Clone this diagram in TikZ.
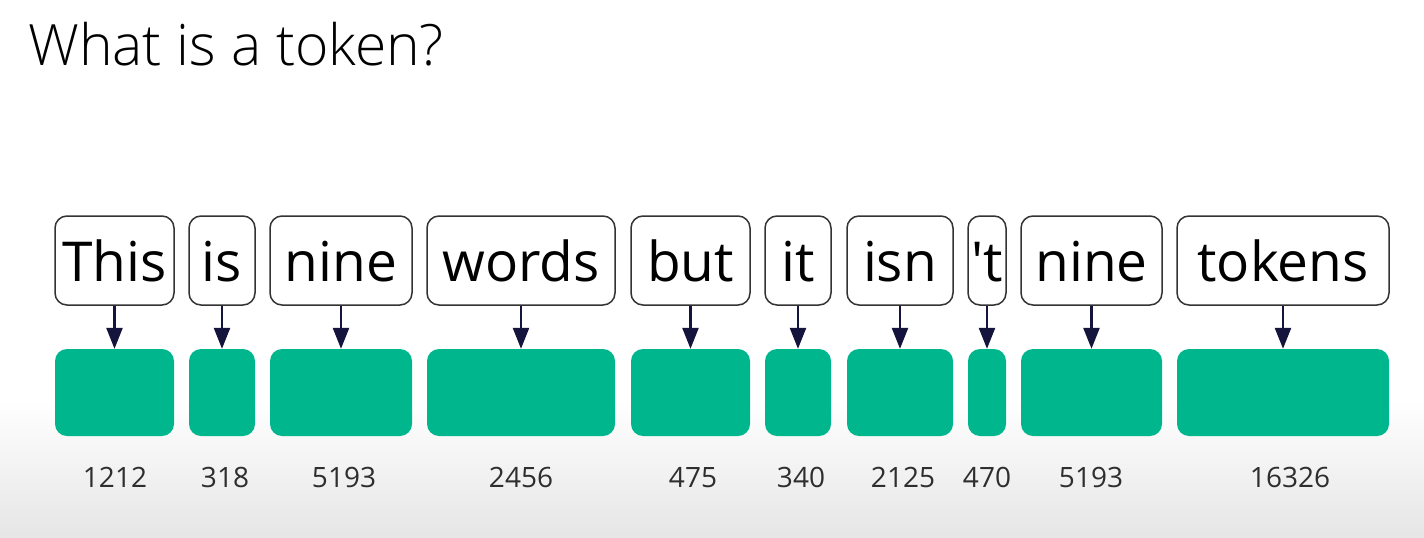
\documentclass[tikz,border=0pt]{standalone}
\usepackage{fontspec}
\setmainfont{Open Sans}[Ligatures=TeXOff]
\newfontfamily\titlefont{Open Sans Light}
\usetikzlibrary{arrows.meta}
\definecolor{tokgreen}{HTML}{00B68C}
\definecolor{arrownavy}{HTML}{14143C}
\definecolor{boxgray}{HTML}{333333}
\definecolor{numgray}{HTML}{2E2E2E}
\begin{document}
\begin{tikzpicture}[x=1pt, y=-1pt,
word node/.style={rectangle,rounded corners=12pt,draw=boxgray,line width=1.5pt,fill=white,minimum height=89pt,inner sep=0pt,text height=42pt,text depth=0pt,font=\fontsize{55}{66}\selectfont},
id node/.style={rectangle,rounded corners=12pt,fill=tokgreen,minimum height=87pt,inner sep=0pt},
num node/.style={text=numgray,inner sep=0pt,text height=20pt,text depth=0pt,font=\fontsize{28}{34}\selectfont},
arrow line/.style={draw=arrownavy,line width=2.5pt,-{Triangle[length=21pt,width=16pt]}}]
% background
\fill[white] (0,0) rectangle (1424,538);
\shade[top color=white, bottom color=black!10] (0,400) rectangle (1424,538);
\node[anchor=base west,inner sep=0pt,font=\titlefont\fontsize{57}{68}\selectfont] (title) at (28,65) {What is a token?};
\begin{scope}
\node[word node, minimum width=119pt] (w1) at (114.5,260.5) {This};
\node[word node, minimum width=66pt] (w2) at (222,260.5) {is};
\node[word node, minimum width=142pt] (w3) at (341,260.5) {nine};
\node[word node, minimum width=188pt] (w4) at (521,260.5) {words};
\node[word node, minimum width=119pt] (w5) at (690.5,260.5) {but};
\node[word node, minimum width=66pt] (w6) at (798,260.5) {it};
\node[word node, minimum width=106pt] (w7) at (900,260.5) {isn};
\node[word node, minimum width=38pt] (w8) at (987,260.5) {'t};
\node[word node, minimum width=141pt] (w9) at (1091.5,260.5) {nine};
\node[word node, minimum width=212pt] (w10) at (1283,260.5) {tokens};
\end{scope}
\begin{scope}
\node[id node, minimum width=119pt] (g1) at (114.5,392.5) {};
\node[id node, minimum width=66pt] (g2) at (222,392.5) {};
\node[id node, minimum width=142pt] (g3) at (341,392.5) {};
\node[id node, minimum width=188pt] (g4) at (521,392.5) {};
\node[id node, minimum width=119pt] (g5) at (690.5,392.5) {};
\node[id node, minimum width=66pt] (g6) at (798,392.5) {};
\node[id node, minimum width=106pt] (g7) at (900,392.5) {};
\node[id node, minimum width=38pt] (g8) at (987,392.5) {};
\node[id node, minimum width=141pt] (g9) at (1091.5,392.5) {};
\node[id node, minimum width=212pt] (g10) at (1283,392.5) {};
\end{scope}
\begin{scope}[every node/.style={num node}]
\node (n1) at (115,477) {1212};
\node (n2) at (225,477) {318};
\node (n3) at (344,477) {5193};
\node (n4) at (521,477) {2456};
\node (n5) at (693,477) {475};
\node (n6) at (801,477) {340};
\node (n7) at (903,477) {2125};
\node (n8) at (987,477) {470};
\node (n9) at (1091,477) {5193};
\node (n10) at (1290,477) {16326};
\end{scope}
\begin{scope}[arrow line]
\draw (w1) edge (g1);
\draw (w2) edge (g2);
\draw (w3) edge (g3);
\draw (w4) edge (g4);
\draw (w5) edge (g5);
\draw (w6) edge (g6);
\draw (w7) edge (g7);
\draw (w8) edge (g8);
\draw (w9) edge (g9);
\draw (w10) edge (g10);
\end{scope}
\end{tikzpicture}
\end{document}
